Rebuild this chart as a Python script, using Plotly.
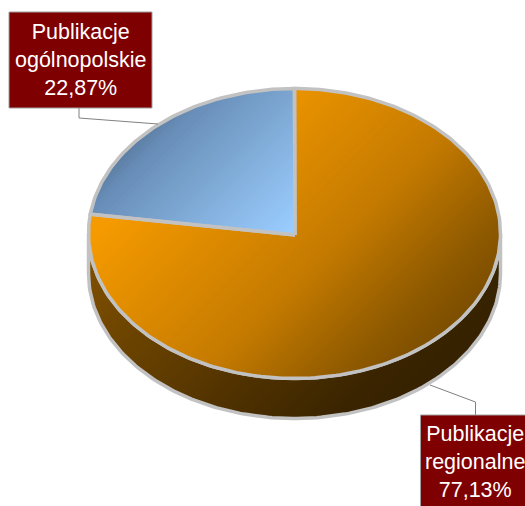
import numpy as np
import plotly.graph_objects as go

categories = ["Publikacje<br>ogólnopolskie", "Publikacje<br>regionalne"]
values = [22.87, 77.13]

W, H = 525, 506
CX, CY, RX, RY, DEPTH = 294.5, 233.5, 206, 145, 40
APEX = (295.0, 235.0)
EDGE = "#c2c2c2"
BOX = "#7f0000"

ORANGE = [(330, (245, 154, 0)), (580, (196, 122, 0)), (715, (143, 90, 0)), (780, (124, 78, 0)), (860, (100, 63, 0))]
BLUE = [(270, (90, 122, 159)), (304, (104, 142, 184)), (382, (123, 165, 208)), (520, (154, 204, 255))]
SIDE = [(380, (122, 77, 0)), (570, (90, 56, 0)), (750, (58, 36, 0)), (900, (48, 30, 0))]


def ellipse(a0, a1, n=160, dy=0.0):
    th = np.radians(np.linspace(a0, a1, n))
    return np.column_stack((CX + RX * np.sin(th), CY - RY * np.cos(th) + dy))


def colour(s, stops):
    ss = [p[0] for p in stops]
    rgb = [int(round(np.interp(s, ss, [p[1][i] for p in stops]))) for i in range(3)]
    return "rgb(%d,%d,%d)" % tuple(rgb)


def clip(poly, s0):
    out = []
    n = len(poly)
    vals = poly.sum(axis=1)
    for i in range(n):
        a, b = poly[i], poly[(i + 1) % n]
        va, vb = vals[i], vals[(i + 1) % n]
        if va >= s0:
            out.append(a)
        if (va >= s0) != (vb >= s0):
            out.append(a + (b - a) * (s0 - va) / (vb - va))
    return np.array(out) if out else None


def gradient(fig, poly, stops, step=6):
    s = poly.sum(axis=1)
    for s0 in np.arange(s.min(), s.max(), step):
        p = clip(poly, s0)
        if p is None or len(p) < 3:
            continue
        fig.add_trace(go.Scatter(
            x=np.append(p[:, 0], p[0, 0]), y=np.append(p[:, 1], p[0, 1]),
            mode="lines", line=dict(width=0), fill="toself",
            fillcolor=colour(s0 + step / 2, stops), hoverinfo="skip", showlegend=False))


def outline(fig, pts, width=3.5):
    fig.add_trace(go.Scatter(x=pts[:, 0], y=pts[:, 1], mode="lines",
                             line=dict(color=EDGE, width=width), hoverinfo="skip", showlegend=False))


fig = go.Figure()

# slice angles follow the data
total = sum(values)
start = -360 * values[0] / total

# side wall
top_front = ellipse(90, 270)
bottom_front = ellipse(270, 90, dy=DEPTH)
side = np.vstack((top_front, bottom_front))
gradient(fig, side, SIDE)
outline(fig, np.vstack((side, side[:1])))

# top wedges
apex = np.array([APEX])
wedge_blue = np.vstack((apex, ellipse(start, 0, 80), apex))
wedge_orange = np.vstack((apex, ellipse(0, 360 + start, 240), apex))
gradient(fig, wedge_orange[:-1], ORANGE)
gradient(fig, wedge_blue[:-1], BLUE)
outline(fig, wedge_orange)
outline(fig, wedge_blue)

label_text = [f"{c}<br>{str(v).replace('.', ',')}%" for c, v in zip(categories, values)]
boxes = [(9, 12, 152, 108), (420.5, 415, 530, 512)]
centres = [(80.5, 60), (474.5, 462)]
leaders = ["M79,108 L79,118 L158,124", "M475.5,415 L475.5,402 L430,385"]

shapes = []
annotations = []
for (x0, y0, x1, y1), (tx, ty), path, text in zip(boxes, centres, leaders, label_text):
    shapes.append(dict(type="path", path=path, line=dict(color="#808080", width=1), layer="above"))
    shapes.append(dict(type="rect", x0=x0, y0=y0, x1=x1, y1=y1, fillcolor=BOX,
                       line=dict(color="#a0a0a0", width=1), layer="above"))
    annotations.append(dict(x=tx, y=ty, xref="x", yref="y", text=text, showarrow=False,
                            align="center", xanchor="center", yanchor="middle",
                            font=dict(family="Liberation Sans", size=21.5, color="white")))

fig.update_layout(
    width=W, height=H, margin=dict(l=0, r=0, t=0, b=0), autosize=False,
    paper_bgcolor="white", plot_bgcolor="white", showlegend=False,
    xaxis=dict(range=[0, W], visible=False, fixedrange=True),
    yaxis=dict(range=[H, 0], visible=False, fixedrange=True),
    shapes=shapes, annotations=annotations,
)
fig.write_html("out.html", config=dict(displayModeBar=False),
               post_script="document.body.style.margin='0';document.body.style.overflow='hidden';")
